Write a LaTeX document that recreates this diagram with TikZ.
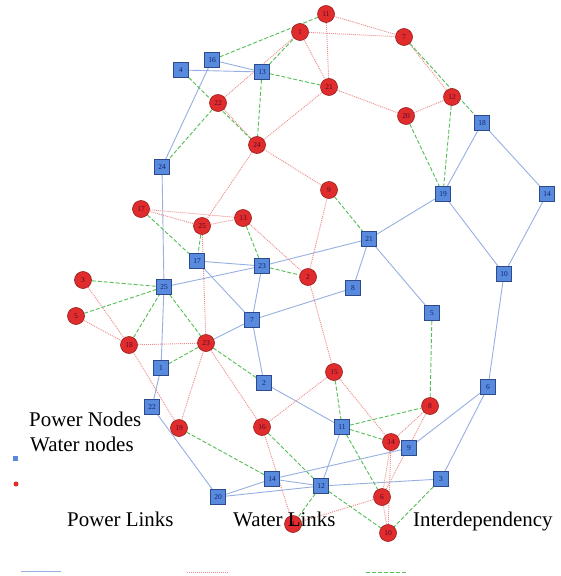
\documentclass[tikz,border=0pt]{standalone}
\usepackage{fontspec}
\setmainfont{Liberation Serif}
\usetikzlibrary{backgrounds}
\definecolor{pfill}{RGB}{88,138,222}
\definecolor{pdraw}{RGB}{44,74,140}
\definecolor{ptext}{RGB}{20,36,110}
\definecolor{wfill}{RGB}{224,44,44}
\definecolor{wdraw}{RGB}{150,30,30}
\definecolor{wtext}{RGB}{90,10,40}
\definecolor{plink}{RGB}{150,176,226}
\definecolor{wlink}{RGB}{238,140,140}
\definecolor{ilink}{RGB}{84,190,84}
\tikzset{
  pnode/.style={rectangle, minimum size=15bp, inner sep=0pt, fill=pfill, draw=pdraw,
    line width=0.6bp, text=ptext, font=\fontsize{7.5}{8}\selectfont},
  wnode/.style={circle, minimum size=17bp, inner sep=0pt, fill=wfill, draw=wdraw,
    line width=0.6bp, text=wtext, font=\fontsize{7.5}{8}\selectfont},
  plinkstyle/.style={plink, line width=0.9bp},
  wlinkstyle/.style={wlink, line width=0.9bp, dash pattern=on 1bp off 1bp},
  ilinkstyle/.style={ilink, line width=0.9bp, dash pattern=on 4bp off 2bp},
  legtext/.style={anchor=base west, inner sep=0pt, font=\fontsize{21}{24}\selectfont},
}
\begin{document}
\begin{tikzpicture}[x=1bp, y=-1bp]
\useasboundingbox (0,0) rectangle (561,576);

% power network nodes
\node[pnode] (p4)  at (181,70)  {4};
\node[pnode] (p16) at (212,60)  {16};
\node[pnode] (p13) at (262,72)  {13};
\node[pnode] (p24) at (162,167) {24};
\node[pnode] (p17) at (197,261) {17};
\node[pnode] (p23) at (262,266) {23};
\node[pnode] (p21) at (369,239) {21};
\node[pnode] (p19) at (443,194) {19};
\node[pnode] (p18) at (482,123) {18};
\node[pnode] (p14a) at (547,194) {14};
\node[pnode] (p10) at (504,274) {10};
\node[pnode] (p8)  at (353,288) {8};
\node[pnode] (p5)  at (432,313) {5};
\node[pnode] (p25) at (164,287) {25};
\node[pnode] (p7)  at (252,320) {7};
\node[pnode] (p1)  at (161,368) {1};
\node[pnode] (p2)  at (264,383) {2};
\node[pnode] (p22) at (152,407) {22};
\node[pnode] (p6)  at (488,387) {6};
\node[pnode] (p11) at (342,427) {11};
\node[pnode] (p9)  at (409,448) {9};
\node[pnode] (p3)  at (441,479) {3};
\node[pnode] (p14) at (272,479) {14};
\node[pnode] (p12) at (321,486) {12};
\node[pnode] (p20) at (218,497) {20};

% water network nodes
\node[wnode] (w11) at (326,14)  {11};
\node[wnode] (w1)  at (300,32)  {1};
\node[wnode] (w7)  at (404,37)  {7};
\node[wnode] (w21) at (329,87)  {21};
\node[wnode] (w12) at (452,97)  {12};
\node[wnode] (w20) at (406,116) {20};
\node[wnode] (w22) at (218,103) {22};
\node[wnode] (w24) at (257,145) {24};
\node[wnode] (w9)  at (329,190) {9};
\node[wnode] (w17) at (141,209) {17};
\node[wnode] (w25) at (202,226) {25};
\node[wnode] (w13) at (243,218) {13};
\node[wnode] (w2)  at (308,277) {2};
\node[wnode] (w3)  at (83,280)  {3};
\node[wnode] (w5)  at (76,316)  {5};
\node[wnode] (w18) at (129,345) {18};
\node[wnode] (w23) at (206,343) {23};
\node[wnode] (w15) at (334,372) {15};
\node[wnode] (w8)  at (430,406) {8};
\node[wnode] (w19) at (179,428) {19};
\node[wnode] (w16) at (262,427) {16};
\node[wnode] (w14) at (391,442) {14};
\node[wnode] (w6)  at (382,497) {6};
\node[wnode] (w10) at (388,533) {10};
\node[wnode] (w4)  at (293,524) {4};

% links, kept behind the nodes
\begin{scope}[on background layer]
\fill[white] (0,0) rectangle (561,576);
% power links
\foreach \a/\b in {p4/p13, p16/p13, p16/p24, p24/p25, p25/p1, p1/p22, p22/p20,
    p25/p23, p23/p21, p17/p23, p17/p7, p23/p7, p7/p8, p7/p2, w23/p7, p21/p8,
    p21/p5, p21/p19, p19/p18, p18/p14a, p19/p10, p14a/p10, p10/p6, p6/p9, p6/p3,
    p2/p11, p11/p12, p14/p12, p20/p14, p20/p12, p14/p9, p12/p3}
  \draw[plinkstyle] (\a) -- (\b);
% water links
\foreach \a/\b in {w1/w7, w11/w7, w11/w21, w1/w21, w21/w20, w20/w12, w7/w12,
    w22/w1, w22/w24, w21/w24, w24/w9, w24/w25, w17/w25, w17/w13, w25/w13,
    w13/w2, w9/w2, w2/w15, w25/w23, w3/w18, w5/w18, w18/w23, w18/w19, w23/w19,
    w23/w16, w16/w15, w16/w4, w15/w14, w8/w14, w8/w6, w14/w6, w14/w10, w6/w10,
    w4/w6}
  \draw[wlinkstyle] (\a) -- (\b);
% interdependency links
\foreach \a/\b in {p16/w11, p13/w1, p4/w24, w22/p24, p13/w24, p13/w21, w7/p18,
    w12/p19, w20/p19, w9/p21, w17/p17, w25/p17, w13/p23, p23/w2, w3/p25,
    w5/p25, w18/p25, p25/w23, w23/p1, w23/p2, w19/p14, w16/p12, w15/p11,
    p11/w8, p11/w14, p11/w6, w8/p5, p3/w10, p12/w10, p12/w4}
  \draw[ilinkstyle] (\a) -- (\b);
\end{scope}

% legend
\node[legtext] (tpn) at (29,426) {Power Nodes};
\node[legtext] (twn) at (30,451) {Water nodes};
\node[rectangle, fill=pfill, minimum size=5bp, inner sep=0pt] (lpn) at (15,458) {};
\node[circle, fill=wfill, minimum size=5bp, inner sep=0pt] (lwn) at (16,484) {};
\node[legtext] (tpl) at (67,526) {Power Links};
\node[legtext] (twl) at (233,526) {Water Links};
\node[legtext] (til) at (413,526) {Interdependency};
\coordinate (pla) at (21,571);  \coordinate (plb) at (61,571);
\coordinate (wla) at (187,572); \coordinate (wlb) at (228,572);
\coordinate (ila) at (366,572); \coordinate (ilb) at (406,572);
\draw[plinkstyle] (pla) -- (plb);
\draw[wlinkstyle] (wla) -- (wlb);
\draw[ilinkstyle] (ila) -- (ilb);
\end{tikzpicture}
\end{document}
